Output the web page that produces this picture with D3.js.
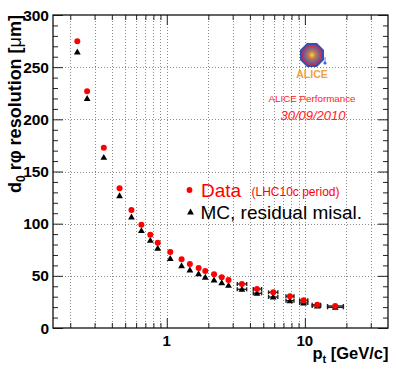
<!DOCTYPE html>
<html><head><meta charset="utf-8">
<script src="https://cdn.jsdelivr.net/npm/d3@7"></script>
<style>html,body{margin:0;padding:0;background:#fff;}svg{display:block;}</style>
</head><body>
<svg id="c" width="407" height="377"></svg>
<script>
// ---- data ----
const pt      = [0.225, 0.265, 0.35, 0.455, 0.555, 0.655, 0.76, 0.86, 1.06, 1.28, 1.47, 1.7, 1.9, 2.2, 2.5, 2.8, 3.5, 4.5, 5.9, 7.8, 9.8, 12.3, 16.6];
const dataRes = [274.8, 226.8, 172.8, 133.9, 113.0, 99.0, 89.4, 81.8, 72.8, 65.8, 61.3, 57.5, 54.6, 51.5, 48.6, 46.0, 42.2, 37.4, 34.2, 30.4, 26.5, 22.3, 21.1];
const mcRes   = [264.5, 220.0, 163.6, 126.8, 106.4, 93.3, 84.0, 76.4, 66.6, 59.7, 55.6, 52.0, 48.6, 46.0, 43.4, 40.9, 37.1, 33.3, 29.7, 26.2, 24.0, 21.1, 19.8];
const ptLow   = [null,null,null,null,null,null,null,null,null,null,null,null,null,null,null,null, 3.24, 4.23, 5.46, 7.3, 9.17, 11.3, 14.6];
const ptHigh  = [null,null,null,null,null,null,null,null,null,null,null,null,null,null,null,null, 3.79, 4.86, 6.37, 8.34, 10.5, 13.0, 19.0];
const xDomain = [0.15, 40];
const yDomain = [0, 300];
const xMajorTicks = [1, 10];
const xMinorTicks = [0.2,0.3,0.4,0.5,0.6,0.7,0.8,0.9,2,3,4,5,6,7,8,9,20,30];
const yMajorTicks = [0, 50, 100, 150, 200, 250, 300];
const yMinorTicks = d3.range(0, 301, 10).filter(v => v % 50 !== 0);

const svg = d3.select("#c");
const L = 53, R = 388, T = 15, B = 328;
const x = d3.scaleLog().domain(xDomain).range([L, R]);
const y = d3.scaleLinear().domain(yDomain).range([B, T]);
const FONT = "'Liberation Sans', Arial, Helvetica, sans-serif";

// grid
const grid = svg.append("g").attr("stroke", "#8a8a8a").attr("stroke-width", 1).attr("stroke-dasharray", "1,2");
xMinorTicks.concat(xMajorTicks).forEach(v => {
  grid.append("line").attr("x1", Math.round(x(v)) + 0.5).attr("x2", Math.round(x(v)) + 0.5).attr("y1", T).attr("y2", B);
});
yMajorTicks.filter(v => v > 0 && v < 300).forEach(v => {
  grid.append("line").attr("x1", L).attr("x2", R).attr("y1", Math.round(y(v)) + 0.5).attr("y2", Math.round(y(v)) + 0.5);
});

// axes via d3.axis (ticks drawn inward)
function styleAxis(g) { g.select(".domain").remove(); g.selectAll("line").attr("stroke", "#222").attr("stroke-width", 1); }
svg.append("g").attr("transform", `translate(0,${B})`)
  .call(d3.axisTop(x).tickValues(xMajorTicks).tickSize(10).tickFormat("")).call(styleAxis);
svg.append("g").attr("transform", `translate(0,${B})`)
  .call(d3.axisTop(x).tickValues(xMinorTicks).tickSize(5).tickFormat("")).call(styleAxis);
svg.append("g").attr("transform", `translate(0,${T})`)
  .call(d3.axisBottom(x).tickValues(xMajorTicks).tickSize(10).tickFormat("")).call(styleAxis);
svg.append("g").attr("transform", `translate(0,${T})`)
  .call(d3.axisBottom(x).tickValues(xMinorTicks).tickSize(5).tickFormat("")).call(styleAxis);
svg.append("g").attr("transform", `translate(${L},0)`)
  .call(d3.axisRight(y).tickValues(yMajorTicks).tickSize(10).tickFormat("")).call(styleAxis);
svg.append("g").attr("transform", `translate(${L},0)`)
  .call(d3.axisRight(y).tickValues(yMinorTicks).tickSize(5).tickFormat("")).call(styleAxis);
svg.append("g").attr("transform", `translate(${R},0)`)
  .call(d3.axisLeft(y).tickValues(yMajorTicks).tickSize(10).tickFormat("")).call(styleAxis);
svg.append("g").attr("transform", `translate(${R},0)`)
  .call(d3.axisLeft(y).tickValues(yMinorTicks).tickSize(5).tickFormat("")).call(styleAxis);

// frame
svg.append("rect").attr("x", L).attr("y", T).attr("width", R - L).attr("height", B - T)
  .attr("fill", "none").attr("stroke", "#111").attr("stroke-width", 1.3);

// tick labels
svg.append("g").selectAll("text").data(yMajorTicks).join("text")
  .attr("x", L - 4).attr("y", d => y(d) + 5.5).attr("text-anchor", "end")
  .attr("font-family", FONT).attr("font-weight", "bold").attr("font-size", 15.5).text(d => d);
svg.append("g").selectAll("text").data(xMajorTicks).join("text")
  .attr("x", d => x(d)).attr("y", 346).attr("text-anchor", "middle")
  .attr("font-family", FONT).attr("font-weight", "bold").attr("font-size", 15).text(d => d);

// axis titles
const xt = svg.append("text").attr("x", R + 0.5).attr("y", 359).attr("text-anchor", "end")
  .attr("font-family", FONT).attr("font-weight", "bold").attr("font-size", 16.5);
xt.append("tspan").text("p");
xt.append("tspan").attr("dy", 4).attr("font-size", 11).text("t");
xt.append("tspan").attr("dy", -4).text(" [GeV/c]");

const yt = svg.append("text").attr("transform", `translate(21,${T}) rotate(-90)`).attr("text-anchor", "end")
  .attr("font-family", FONT).attr("font-weight", "bold").attr("font-size", 18);
yt.append("tspan").text("d");
yt.append("tspan").attr("dy", 4).attr("font-size", 12).text("0");
yt.append("tspan").attr("dy", -4).text(" r\u03c6 resolution [");
yt.append("tspan").attr("font-weight", "normal").text("\u03bc");
yt.append("tspan").text("m]");

// error bars
const eb = svg.append("g").attr("stroke", "#222").attr("stroke-width", 1.4);
pt.forEach((p, i) => {
  if (ptLow[i] == null) return;
  [dataRes[i], mcRes[i]].forEach(v => {
    eb.append("line").attr("x1", x(ptLow[i])).attr("x2", x(ptHigh[i])).attr("y1", y(v)).attr("y2", y(v));
    eb.append("line").attr("x1", x(ptLow[i])).attr("x2", x(ptLow[i])).attr("y1", y(v) - 2).attr("y2", y(v) + 2);
    eb.append("line").attr("x1", x(ptHigh[i])).attr("x2", x(ptHigh[i])).attr("y1", y(v) - 2).attr("y2", y(v) + 2);
  });
});

// markers
const tri = d3.symbol().type(d3.symbolTriangle).size(20);
svg.append("g").selectAll("path").data(pt).join("path")
  .attr("d", tri).attr("transform", (d, i) => `translate(${x(d)},${y(mcRes[i]) + 0.5})`).attr("fill", "#000");
svg.append("g").selectAll("circle").data(pt).join("circle")
  .attr("cx", d => x(d)).attr("cy", (d, i) => y(dataRes[i])).attr("r", 3).attr("fill", "#ff0000");

// legend
svg.append("circle").attr("cx", 189.5).attr("cy", 190).attr("r", 2.9).attr("fill", "#ff0000");
svg.append("text").attr("x", 201).attr("y", 196.5).attr("font-family", FONT).attr("font-size", 19).attr("fill", "#ff0000").text("Data");
svg.append("text").attr("x", 251.5).attr("y", 195.5).attr("font-family", FONT).attr("font-size", 12).attr("fill", "#ff0000").text("(LHC10c period)");
svg.append("path").attr("d", tri).attr("transform", "translate(190.5,212.5)").attr("fill", "#000");
svg.append("text").attr("x", 200.5).attr("y", 218.5).attr("font-family", FONT).attr("font-size", 19).attr("fill", "#000").text("MC, residual misal.");

// ALICE logo
const logo = svg.append("g").attr("transform", "translate(312,55)");
const oct = r => d3.range(8).map(k => { const a = Math.PI / 8 + k * Math.PI / 4; return [r * Math.cos(a), r * Math.sin(a)]; });
const defs = svg.append("defs");
const rg = defs.append("radialGradient").attr("id", "lg");
rg.append("stop").attr("offset", "0%").attr("stop-color", "#ffd040");
rg.append("stop").attr("offset", "45%").attr("stop-color", "#c07850");
rg.append("stop").attr("offset", "100%").attr("stop-color", "#6a5a9a");
logo.append("polygon").attr("points", oct(13).join(" ")).attr("fill", "#3a4fa8");
logo.append("polygon").attr("points", oct(10.5).join(" ")).attr("fill", "#d03050");
logo.append("polygon").attr("points", oct(9).join(" ")).attr("fill", "url(#lg)");
logo.append("circle").attr("cx", 13).attr("cy", 8).attr("r", 1.6).attr("fill", "#3a6ad0");
logo.append("line").attr("x1", 13).attr("x2", 13).attr("y1", 2).attr("y2", 8).attr("stroke", "#3a6ad0").attr("stroke-width", 0.8);
svg.append("text").attr("x", 312).attr("y", 78).attr("text-anchor", "middle").attr("font-family", FONT)
  .attr("font-weight", "bold").attr("font-size", 10.5).attr("fill", "#f0a040").text("ALICE");
svg.append("text").attr("x", 312).attr("y", 101.5).attr("text-anchor", "middle").attr("font-family", FONT)
  .attr("font-size", 9.8).attr("fill", "#ff2020").text("ALICE Performance");
svg.append("text").attr("x", 313).attr("y", 120).attr("text-anchor", "middle").attr("font-family", FONT)
  .attr("font-style", "italic").attr("font-size", 13).attr("fill", "#ff2020").text("30/09/2010");
</script>
</body></html>
